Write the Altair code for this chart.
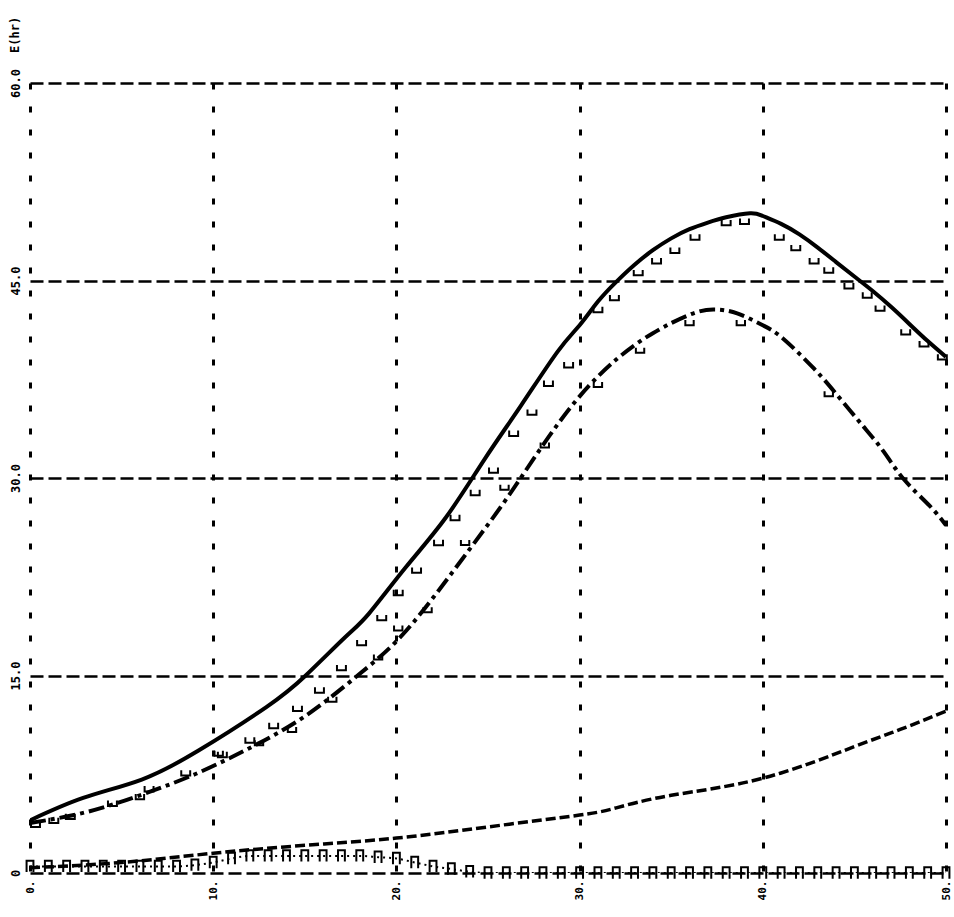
import altair as alt
import pandas as pd

# axis ticks
x_ticks = [0, 10, 20, 30, 40, 50]
y_ticks = [0, 15, 30, 45, 60]

# total response (solid curve)
total_x = [0, 2.9, 6.1, 9.2, 12.9, 15.05, 17.2, 18.5, 20.5, 22.7, 24.8, 26.8, 28.8, 30, 31, 32,
           33, 34, 35, 36, 37, 38, 39.3, 40, 41, 42, 43, 44, 45, 46, 47, 48, 49, 50]
total_y = [4.0, 5.7, 7.1, 9.3, 12.6, 15.0, 17.9, 19.7, 23.2, 27.0, 31.4, 35.5, 39.6, 41.6, 43.4,
           44.9, 46.2, 47.3, 48.2, 48.9, 49.4, 49.8, 50.1, 49.9, 49.3, 48.5, 47.5, 46.4, 45.3,
           44.2, 43.0, 41.7, 40.4, 39.2]

# primary component (dash-dot curve)
primary_x = [0, 3, 6, 9, 12, 15, 17.8, 20, 22, 24, 26, 28, 30, 32, 34, 36, 37.3, 38.6, 40, 41.1,
             42.8, 44, 45.5, 46.6, 47.7, 49.1, 50]
primary_y = [3.8, 4.6, 5.9, 7.5, 9.5, 11.9, 14.9, 17.6, 20.9, 24.6, 28.4, 32.5, 36.2, 39.0, 41.0,
             42.4, 42.8, 42.5, 41.6, 40.6, 38.3, 36.4, 33.9, 32.0, 29.9, 27.9, 26.4]

# secondary component (dashed curve)
secondary_x = [0, 5, 10, 15, 20, 25, 30, 32, 35, 40, 45, 47.5, 50]
secondary_y = [0.4, 0.8, 1.5, 2.1, 2.65, 3.5, 4.4, 4.95, 5.9, 7.2, 9.6, 10.9, 12.3]

# residual component (dotted, near zero)
residual_x = [0, 1, 2, 3, 4, 5, 6, 7, 8, 9, 10, 11, 12, 13, 14, 15, 16, 17, 18, 19, 20, 21, 22,
              23, 24, 25, 26, 27, 28, 29, 30, 31, 32, 33, 34, 35, 36, 37, 38, 39, 40, 41, 42, 43,
              44, 45, 46, 47, 48, 49, 50]
residual_y = [0.5, 0.5, 0.5, 0.5, 0.5, 0.5, 0.5, 0.5, 0.5, 0.6, 0.8, 1.1, 1.3, 1.3, 1.3, 1.3, 1.3,
              1.3, 1.3, 1.2, 1.1, 0.8, 0.5, 0.3, 0.1, 0.0, 0.0, 0.0, 0.0, 0.0, 0.0, 0.0, 0.0, 0.0,
              0.0, 0.0, 0.0, 0.0, 0.0, 0.0, 0.0, 0.0, 0.0, 0.0, 0.0, 0.0, 0.0, 0.0, 0.0, 0.0, 0.0]

# measured points near the total curve
total_obs_x = [0.3, 1.3, 2.2, 4.5, 6.5, 8.5, 10.5, 12.0, 13.3, 14.6, 15.8, 17.0, 18.1, 19.2, 20.1,
               21.1, 22.3, 23.2, 24.3, 25.3, 26.4, 27.4, 28.3, 29.4, 31.0, 31.9, 33.2, 34.2, 35.2,
               36.3, 38.0, 39.0, 40.9, 41.8, 42.8, 43.6, 44.7, 45.7, 46.4, 47.8, 48.8, 49.8]
total_obs_y = [3.7, 4.0, 4.3, 5.3, 6.4, 7.6, 9.0, 10.1, 11.2, 12.5, 13.9, 15.6, 17.5, 19.4, 21.3,
               23.0, 25.1, 27.0, 28.9, 30.6, 33.4, 35.0, 37.2, 38.6, 42.8, 43.7, 45.6, 46.5, 47.3,
               48.3, 49.4, 49.5, 48.3, 47.5, 46.5, 45.8, 44.6, 43.9, 42.9, 41.1, 40.2, 39.2]

# measured points near the primary curve
primary_obs_x = [6.0, 10.3, 12.5, 14.3, 16.5, 19.0, 20.1, 21.7, 23.75, 25.9, 28.1, 31.0, 33.3,
                 36.0, 38.8, 43.6]
primary_obs_y = [5.8, 9.1, 9.9, 10.9, 13.2, 16.4, 18.6, 20.0, 25.1, 29.3, 32.5, 37.1, 39.7, 41.8,
                 41.8, 36.4]

FONT = "DejaVu Sans Mono"
INK = "#000000"

x_scale = alt.Scale(domain=[0, 50], nice=False, zero=False)
y_scale = alt.Scale(domain=[0, 60], nice=False, zero=False)

x_axis = alt.Axis(values=x_ticks, grid=True, gridDash=[6, 17], gridWidth=3, gridColor=INK,
                  gridOpacity=1, domain=False, ticks=False, labelAngle=270,
                  labelExpr="datum.value + '.'", labelFont=FONT, labelFontSize=11,
                  labelFontWeight="bold", labelColor=INK, labelPadding=7, title=None)
y_axis = alt.Axis(values=y_ticks, grid=True, gridDash=[13, 5], gridWidth=2.5, gridColor=INK,
                  gridOpacity=1, domain=False, ticks=False, labelAngle=270,
                  labelExpr="datum.value == 0 ? '0' : format(datum.value, '.1f')",
                  labelFont=FONT, labelFontSize=12, labelFontWeight="bold", labelColor=INK,
                  labelPadding=8, title=None)

X = alt.X("x:Q", scale=x_scale, axis=x_axis)
Y = alt.Y("y:Q", scale=y_scale, axis=y_axis)


def frame(xs, ys):
    return pd.DataFrame({"x": xs, "y": ys})


def line_layer(xs, ys, dash, width, interp="natural"):
    props = dict(color=INK, strokeWidth=width, interpolate=interp, clip=True)
    if dash:
        props["strokeDash"] = dash
    return alt.Chart(frame(xs, ys)).mark_line(**props).encode(x=X, y=Y)


def point_layer(xs, ys, shape, size):
    return alt.Chart(frame(xs, ys)).mark_point(
        shape=shape, size=size, filled=False, color=INK, strokeWidth=2, opacity=1
    ).encode(x=X, y=Y)


cup = "M -1 -0.6 L -1 0.6 L 1 0.6 L 1 -0.6"
arch = "M -0.6 1 L -0.6 -1 L 0.6 -1 L 0.6 1"

total = line_layer(total_x, total_y, None, 4)
primary = line_layer(primary_x, primary_y, [16, 5, 4, 5], 4)
secondary = line_layer(secondary_x, secondary_y, [10, 4], 3.5)
residual = line_layer(residual_x, residual_y, [2, 4], 2, interp="monotone")

total_obs = point_layer(total_obs_x, total_obs_y, cup, 80)
primary_obs = point_layer(primary_obs_x, primary_obs_y, cup, 70)
residual_obs = point_layer(residual_x, residual_y, arch, 130)

y_title = alt.Chart(pd.DataFrame({"t": ["E(hr)"]})).mark_text(
    angle=270, font=FONT, fontSize=12, fontWeight="bold", color=INK, align="left",
    baseline="middle"
).encode(x=alt.value(-15), y=alt.value(-30), text="t:N")

chart = alt.layer(
    total, primary, secondary, residual, total_obs, primary_obs, residual_obs, y_title
).properties(
    width=916,
    height=790,
    padding={"left": 30, "top": 83, "right": 8, "bottom": 44},
    autosize=alt.AutoSizeParams(type="none"),
    background="white",
).configure_view(stroke=None)

chart.save("out.html", embed_options={"renderer": "svg", "actions": False})
